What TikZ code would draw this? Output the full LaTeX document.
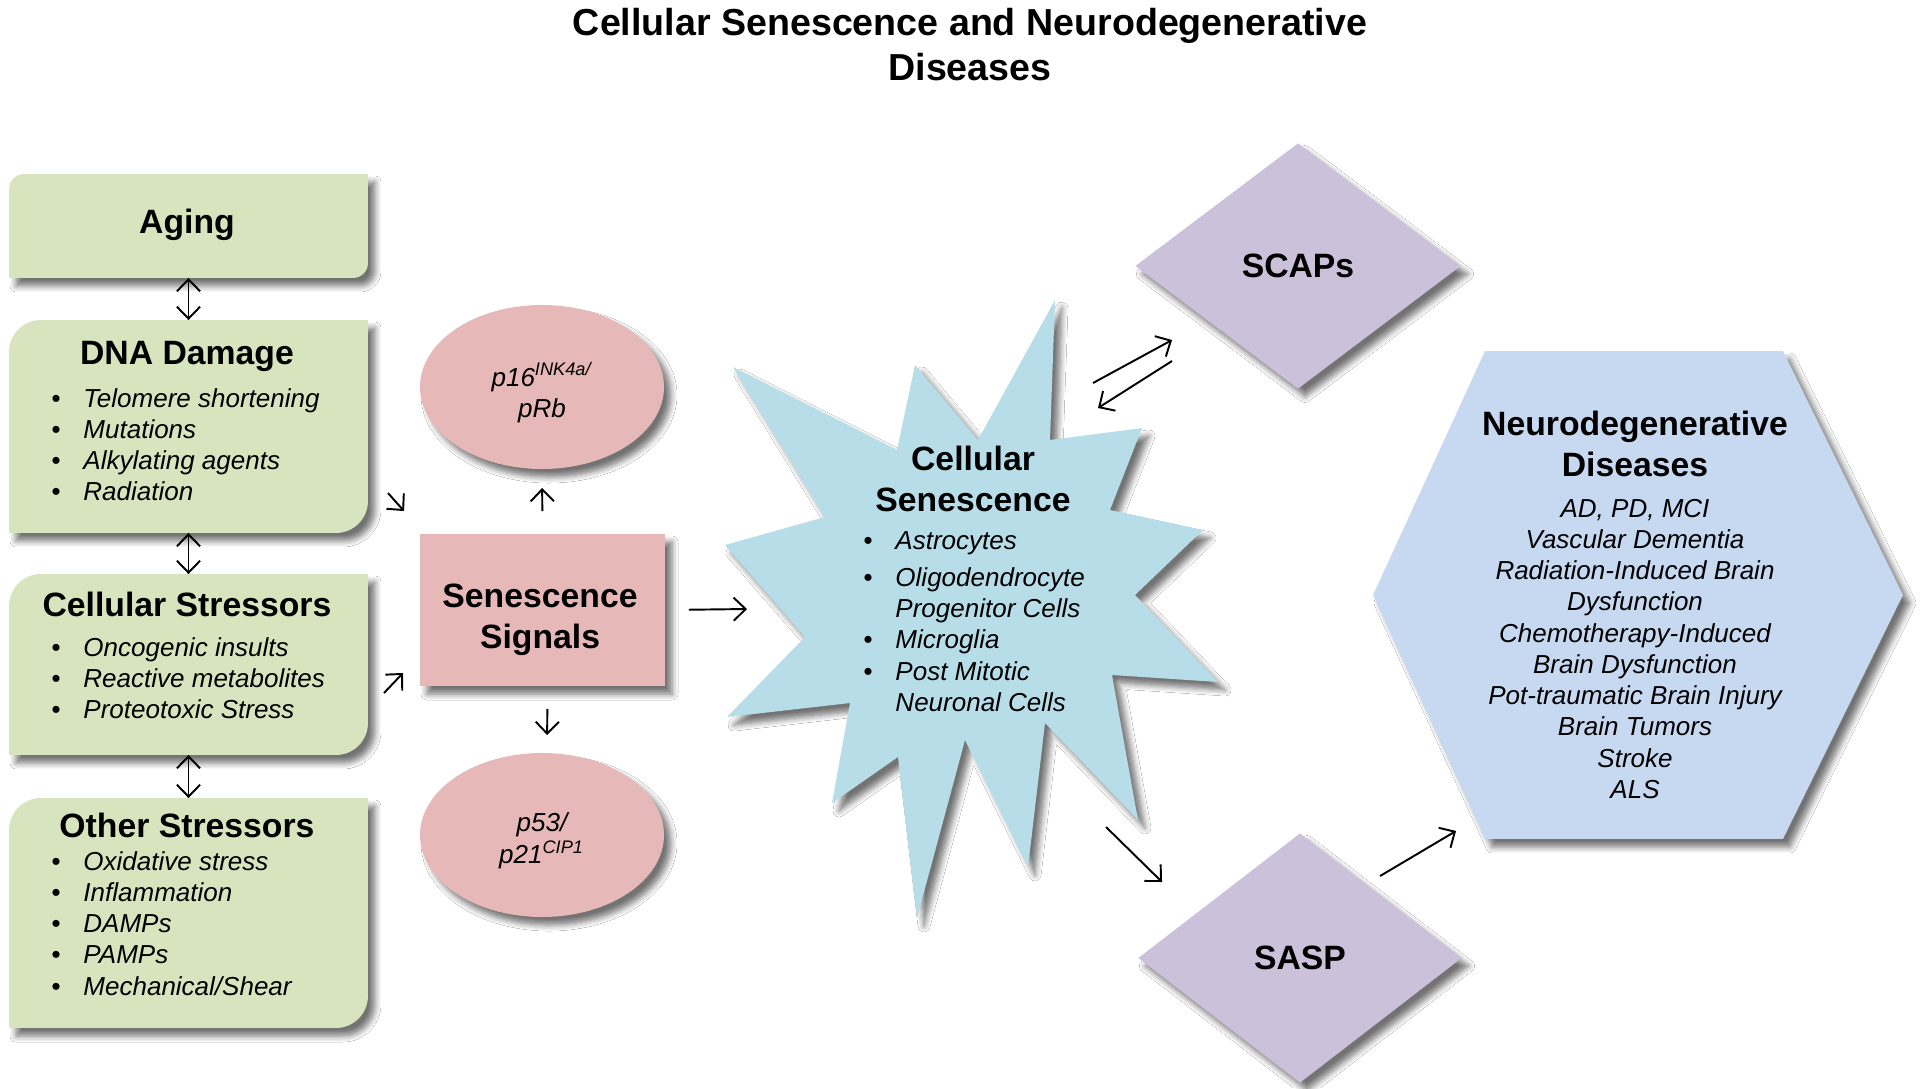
\documentclass[tikz,border=0pt]{standalone}
\usepackage{fontspec}
\setmainfont{Liberation Sans}
\usetikzlibrary{shapes.geometric,shadows.blur,calc,arrows.meta}

\definecolor{agegreen}{RGB}{215,228,189}
\definecolor{signalpink}{RGB}{230,185,184}
\definecolor{senesblue}{RGB}{183,222,232}
\definecolor{sasplilac}{RGB}{204,193,218}
\definecolor{diseaseblue}{RGB}{198,217,241}

\newcommand{\titlefont}{\fontsize{10.7}{12.8}\selectfont\bfseries}
\newcommand{\headfont}{\fontsize{9.6}{11.8}\selectfont\bfseries}
\newcommand{\listfont}{\fontsize{7.4}{8.9}\selectfont\itshape}
\newcommand{\bul}{\makebox[0.32cm][l]{\textbullet}}

% green box, round corners top left and bottom right
\newcommand{\greenfill}[2]{%
  \fill[agegreen,boxshadow] ($(#1.north west)+(0,-#2)$) arc[start angle=180,end angle=90,radius=#2]
    -- (#1.north east) -- ($(#1.south east)+(0,#2)$) arc[start angle=0,end angle=-90,radius=#2]
    -- (#1.south west) -- cycle;}

\tikzset{
  boxshadow/.style={blur shadow={shadow xshift=0.07cm,shadow yshift=-0.08cm,shadow blur radius=0.06cm,shadow blur steps=6,shadow opacity=55}},
  greenbox/.style={rectangle,minimum width=3.57cm,inner sep=0pt},
  headtext/.style={anchor=base,inner sep=0pt,font=\headfont},
  listtext/.style={anchor=base west,inner sep=0pt,font=\listfont},
  pinkoval/.style={ellipse,fill=signalpink,boxshadow,minimum width=2.44cm,minimum height=1.64cm,inner sep=0pt},
  lilacdiamond/.style={diamond,fill=sasplilac,boxshadow,inner sep=0pt,font=\headfont}
}

\begin{document}
\begin{tikzpicture}[line width=0.55pt,>={Straight Barb[length=3.4pt,width=6.6pt]}]
\fill[white] (0,0) rectangle (19.2,-10.88);
\useasboundingbox (0,0) rectangle (19.2,-10.88);

% title
\node[anchor=base,inner sep=0pt,font=\titlefont] (title) at (9.70,-0.355) {\begin{tabular}[t]{@{}c@{}}Cellular Senescence and Neurodegenerative\\ Diseases\end{tabular}};

% left column
\node[greenbox,minimum height=1.02cm] (aging) at (1.885,-2.26) {};
\node[greenbox,minimum height=2.11cm] (dna) at (1.885,-4.265) {};
\node[greenbox,minimum height=1.79cm] (cstress) at (1.885,-6.645) {};
\node[greenbox,minimum height=2.28cm] (ostress) at (1.885,-9.13) {};
\greenfill{aging}{0.15}
\greenfill{dna}{0.32}
\greenfill{cstress}{0.32}
\greenfill{ostress}{0.32}

\node[headtext] (aginghead) at (1.87,-2.33) {Aging};
\node[headtext] (dnahead) at (1.87,-3.64) {DNA Damage};
\node[listtext] (dnalist) at (0.505,-4.07) {\begin{tabular}[t]{@{}l@{}}\bul Telomere shortening\\ \bul Mutations\\ \bul Alkylating agents\\ \bul Radiation\end{tabular}};
\node[headtext] (cstresshead) at (1.87,-6.16) {Cellular Stressors};
\node[listtext] (cstresslist) at (0.505,-6.56) {\begin{tabular}[t]{@{}l@{}}\bul Oncogenic insults\\ \bul Reactive metabolites\\ \bul Proteotoxic Stress\end{tabular}};
\node[headtext] (ostresshead) at (1.87,-8.37) {Other Stressors};
\node[listtext] (ostresslist) at (0.505,-8.70) {\begin{tabular}[t]{@{}l@{}}\bul Oxidative stress\\ \bul Inflammation\\ \bul DAMPs\\ \bul PAMPs\\ \bul Mechanical/Shear\end{tabular}};

% signals
\node[rectangle,fill=signalpink,boxshadow,minimum width=2.45cm,minimum height=1.52cm,inner sep=0pt] (sig) at (5.425,-6.10) {};
\node[headtext] (sigtext) at (5.40,-6.07) {\begin{tabular}[t]{@{}c@{}}Senescence\\ Signals\end{tabular}};
\node[pinkoval] (p16) at (5.42,-3.87) {};
\node[pinkoval] (p53) at (5.42,-8.35) {};
\node[anchor=base,inner sep=0pt,font=\listfont] (p16text) at (5.42,-3.86) {\begin{tabular}[t]{@{}c@{}}p16\textsuperscript{INK4a/}\\ pRb\end{tabular}};
\node[anchor=base,inner sep=0pt,font=\listfont] (p53text) at (5.42,-8.31) {\begin{tabular}[t]{@{}c@{}}p53/\\ p21\textsuperscript{CIP1}\end{tabular}};

% star
\fill[senesblue,boxshadow] (7.33,-3.67) -- (8.97,-4.50) -- (9.15,-3.65) -- (9.78,-4.40) -- (10.55,-3.00)
  -- (10.50,-4.40) -- (11.42,-4.28) -- (11.10,-5.10) -- (12.03,-5.30) -- (11.35,-5.95) -- (12.18,-6.82)
  -- (11.12,-6.75) -- (11.38,-8.20) -- (10.45,-7.23) -- (10.28,-8.67) -- (9.65,-7.40) -- (9.17,-9.18)
  -- (8.98,-7.57) -- (8.32,-8.03) -- (8.50,-7.03) -- (7.27,-7.17) -- (8.05,-6.37) -- (7.25,-5.45)
  -- (8.25,-5.17) -- cycle;
\node[headtext] (senes) at (9.73,-4.70) {\begin{tabular}[t]{@{}c@{}}Cellular\\ Senescence\end{tabular}};
\node[listtext] (seneslist) at (8.625,-5.49) {\begin{tabular}[t]{@{}l@{}}\bul Astrocytes\\[1.7pt] \bul Oligodendrocyte\\ \hspace{0.32cm}Progenitor Cells\\ \bul Microglia\\ \bul Post Mitotic\\ \hspace{0.32cm}Neuronal Cells\end{tabular}};

% diamonds
\node[lilacdiamond,minimum width=3.26cm,minimum height=2.46cm] (scaps) at (12.98,-2.66) {SCAPs};
\node[lilacdiamond,minimum width=3.24cm,minimum height=2.50cm] (sasp) at (13.00,-9.58) {SASP};

% hexagon
\node[rectangle,minimum width=5.28cm,minimum height=4.86cm,inner sep=0pt] (neuro) at (16.38,-5.95) {};
\fill[diseaseblue,boxshadow] (neuro.west) -- ([xshift=1.12cm]neuro.north west) -- ([xshift=-1.2cm]neuro.north east)
  -- (neuro.east) -- ([xshift=-1.2cm]neuro.south east) -- ([xshift=1.12cm]neuro.south west) -- cycle;
\node[headtext] (neurohead) at (16.35,-4.35) {\begin{tabular}[t]{@{}c@{}}Neurodegenerative\\ Diseases\end{tabular}};
\node[anchor=base,inner sep=0pt,font=\listfont] (neurolist) at (16.35,-5.17) {\begin{tabular}[t]{@{}c@{}}AD, PD, MCI\\ Vascular Dementia\\ Radiation-Induced Brain\\ Dysfunction\\ Chemotherapy-Induced\\ Brain Dysfunction\\ Pot-traumatic Brain Injury\\ Brain Tumors\\ Stroke\\ ALS\end{tabular}};

% arrows
\draw[<->] (aging) -- (dna);
\draw[<->] (dna) -- (cstress);
\draw[<->] (cstress) -- (ostress);
\draw[->] ([xshift=0.2cm,yshift=-0.665cm]dna.east) -- ([xshift=-0.15cm,yshift=0.22cm]sig.north west);
\draw[->] ([xshift=0.16cm,yshift=-0.285cm]cstress.east) -- ([xshift=-0.16cm,yshift=0.14cm]sig.south west);
\draw[->,shorten <=0.22cm,shorten >=0.18cm] (sig.north) -- (p16.south);
\draw[->,shorten <=0.22cm,shorten >=0.17cm] ([xshift=0.05cm]sig.south) -- ([xshift=0.05cm]p53.north);
\coordinate (senesin) at (7.47,-6.09);
\draw[->,shorten <=0.23cm] (sig.east) -- (senesin);
\coordinate (senesout) at (10.93,-3.83);
\coordinate (senesback) at (10.98,-4.08);
\draw[->] (senesout) -- ([xshift=0.38cm,yshift=-0.74cm]scaps.west);
\draw[->] ([xshift=0.38cm,yshift=-0.95cm]scaps.west) -- (senesback);
\coordinate (senesdown) at (11.06,-8.27);
\draw[->] (senesdown) -- ([xshift=0.25cm,yshift=0.76cm]sasp.west);
\draw[->] ([xshift=0.80cm,yshift=-0.44cm]sasp.north) -- ([xshift=0.83cm,yshift=0.08cm]neuro.south west);
\end{tikzpicture}
\end{document}
